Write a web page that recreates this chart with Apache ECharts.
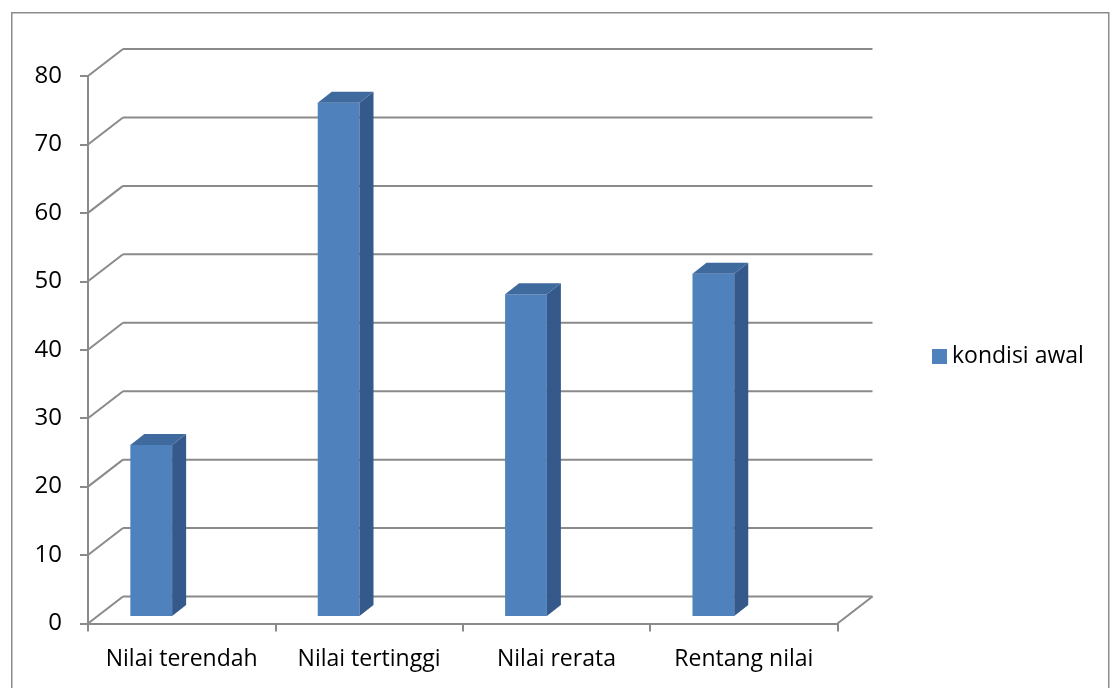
<!DOCTYPE html>
<html>
<head>
<meta charset="utf-8">
<script src="https://cdn.jsdelivr.net/npm/echarts@6/dist/echarts.min.js"></script>
<style>
html,body{margin:0;padding:0;background:#fff;}
#chart{width:1115px;height:688px;}
</style>
</head>
<body>
<div id="chart"></div>
<script>
// ---- data ----
var categories = ['Nilai terendah', 'Nilai tertinggi', 'Nilai rerata', 'Rentang nilai'];
var seriesName = 'kondisi awal';
var values = [25, 75, 47, 50];
var yTicks = [0, 10, 20, 30, 40, 50, 60, 70, 80];

// ---- style constants ----
var FONT = '"Open Sans", "Noto Sans", sans-serif';
var GRID_COLOR = '#8a8a8a';
var WALL_DX = 35, WALL_DY = -27;      // depth of back wall
var BAR_PLANE_DY = -7.5;              // bars sit slightly behind the front edge
var BAR_SX = 14, BAR_SY = -11;        // bar depth
var FRONT = '#4f81bd', SIDE = '#34598a', TOP = '#3f6a9e';

var chart = echarts.init(document.getElementById('chart'), null, {renderer: 'canvas'});

function frameItem(params, api) {
  var cs = params.coordSys;
  var v = api.value(0);
  var y = api.coord([0, v])[1];
  var x0 = cs.x, x1 = cs.x + cs.width;
  var style = {stroke: GRID_COLOR, lineWidth: 2, fill: null};
  var children = [
    {type: 'line', shape: {x1: x0 + WALL_DX, y1: y + WALL_DY, x2: x1 + WALL_DX, y2: y + WALL_DY}, style: style},
    {type: 'line', shape: {x1: x0, y1: y, x2: x0 + WALL_DX, y2: y + WALL_DY}, style: style}
  ];
  if (v === yTicks[0]) {
    children.push({type: 'line', shape: {x1: x1, y1: y, x2: x1 + WALL_DX, y2: y + WALL_DY}, style: style});
  }
  return {type: 'group', children: children};
}

function barItem(params, api) {
  var i = api.value(0);
  var v = api.value(1);
  var base = api.coord([i, 0]);
  var top = api.coord([i, v]);
  var bw = api.size([1, 0])[0];
  var L = base[0] - 0.274 * bw;
  var R = L + 0.223 * bw;
  var B = base[1] + BAR_PLANE_DY;
  var T = top[1] + BAR_PLANE_DY;
  return {
    type: 'group',
    children: [
      {type: 'polygon', shape: {points: [[L, B], [L, T], [R, T], [R, B]]}, style: {fill: FRONT}},
      {type: 'polygon', shape: {points: [[R, B], [R, T], [R + BAR_SX, T + BAR_SY], [R + BAR_SX, B + BAR_SY]]}, style: {fill: SIDE}},
      {type: 'polygon', shape: {points: [[L, T], [R, T], [R + BAR_SX, T + BAR_SY], [L + BAR_SX, T + BAR_SY]]}, style: {fill: TOP}}
    ]
  };
}

var option = {
  animation: false,
  backgroundColor: '#ffffff',
  graphic: [{
    type: 'rect', left: 11, top: 12, z: -10,
    shape: {width: 1097, height: 700},
    style: {fill: '#ffffff', stroke: '#8c8c8c', lineWidth: 1.5}
  }],
  grid: {left: 88, right: 277.5, top: 76, bottom: 64.5, containLabel: false},
  legend: {
    data: [{name: seriesName, icon: 'rect'}],
    left: 927, top: 340,
    itemWidth: 15, itemHeight: 15, itemGap: 6,
    textStyle: {fontFamily: FONT, fontSize: 23, color: '#000'}
  },
  xAxis: {
    type: 'category',
    data: categories,
    boundaryGap: true,
    axisLine: {show: true, lineStyle: {color: GRID_COLOR, width: 2}},
    axisTick: {show: true, interval: 0, length: 8, lineStyle: {color: GRID_COLOR, width: 2}},
    axisLabel: {interval: 0, fontFamily: FONT, fontSize: 23, color: '#000', margin: 24},
    splitLine: {show: false}
  },
  yAxis: {
    type: 'value',
    min: yTicks[0], max: yTicks[yTicks.length - 1], interval: yTicks[1] - yTicks[0],
    axisLine: {show: true, lineStyle: {color: GRID_COLOR, width: 2}},
    axisTick: {show: true, length: 8, lineStyle: {color: GRID_COLOR, width: 2}},
    axisLabel: {fontFamily: FONT, fontSize: 24, color: '#000', margin: 26},
    splitLine: {show: false}
  },
  series: [
    {
      type: 'custom', name: '_frame', silent: true, clip: false, z: 1,
      renderItem: frameItem,
      encode: {y: 0},
      data: yTicks.map(function (t) { return [t]; })
    },
    {
      type: 'custom', name: seriesName, clip: false, z: 5,
      itemStyle: {color: FRONT},
      renderItem: barItem,
      encode: {x: 0, y: 1},
      data: values.map(function (v, i) { return [i, v]; })
    }
  ]
};
chart.setOption(option);
</script>
</body>
</html>
